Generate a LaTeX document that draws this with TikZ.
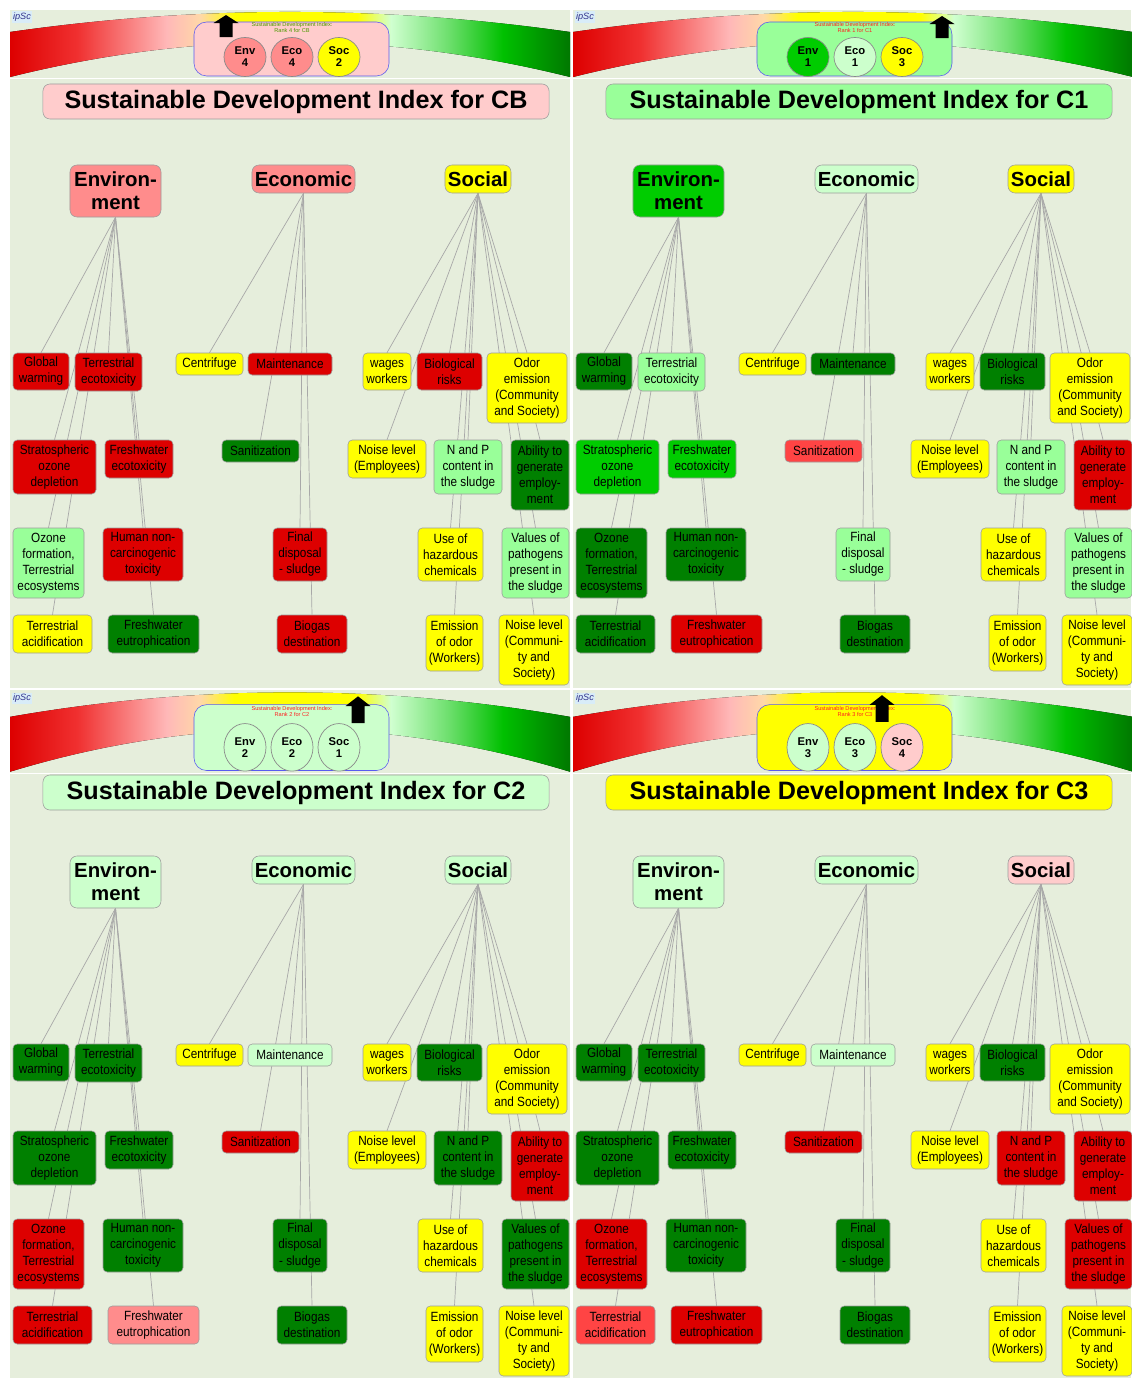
\documentclass[tikz,border=0pt]{standalone}
\usepackage{fontspec}
\setmainfont{Liberation Sans}
\newfontfamily\leaffont[FakeStretch=0.88]{Liberation Sans}
\usetikzlibrary{backgrounds}

\definecolor{sdRed}{HTML}{DD0000}
\definecolor{sdLRed}{HTML}{FF4444}
\definecolor{sdPink}{HTML}{FF8C8C}
\definecolor{sdRose}{HTML}{FFCCCC}
\definecolor{sdYel}{HTML}{FFFF00}
\definecolor{sdLGrn}{HTML}{99FF99}
\definecolor{sdMint}{HTML}{CCFFCC}
\definecolor{sdGrn}{HTML}{00CC00}
\definecolor{sdDGrn}{HTML}{008000}
\definecolor{sdBg}{HTML}{E6EEDC}
\definecolor{sdLine}{HTML}{A8A8A8}
\definecolor{sdEdge}{HTML}{9C9C9C}
\definecolor{sdDot}{HTML}{8A8A8A}
\definecolor{sdBlue}{HTML}{5A5AF0}
\definecolor{sdOlive}{HTML}{4C9A00}
\definecolor{sdAlert}{HTML}{FF2020}
\definecolor{sdLogo}{HTML}{D8ECF8}
\definecolor{sdNavy}{HTML}{30308A}
\definecolor{bandB}{HTML}{F03030}
\definecolor{bandC}{HTML}{FFB8B8}
\definecolor{bandD}{HTML}{FFD8A8}
\definecolor{bandE}{HTML}{D0FFD0}
\definecolor{bandF}{HTML}{70E070}
\definecolor{bandG}{HTML}{00C000}
\definecolor{bandH}{HTML}{007800}
\pgfdeclarehorizontalshading{sdband}{100bp}{color(0bp)=(sdRed); color(25bp)=(sdRed);
  color(31bp)=(bandB); color(39bp)=(bandC); color(42bp)=(bandD); color(45bp)=(sdYel);
  color(56bp)=(sdYel); color(59bp)=(bandE); color(64bp)=(bandF); color(69bp)=(bandG);
  color(75bp)=(bandH); color(100bp)=(bandH)}

\pgfdeclarelayer{panel}
\pgfdeclarelayer{links}
\pgfsetlayers{panel,links,main}

\tikzset{
  leaf/.style={draw=sdEdge, rounded corners=3pt, inner sep=0pt, align=center, text=black,
    font=\leaffont\fontsize{9.5}{11.4}\selectfont},
  pillar/.style={draw=sdEdge, rounded corners=5pt, inner sep=0pt, align=center,
    font=\bfseries\fontsize{14.5}{16.5}\selectfont},
  banner/.style={draw=sdEdge, rounded corners=5pt, inner sep=0pt, minimum width=12.65cm,
    minimum height=0.875cm, font=\bfseries\fontsize{17.9}{20}\selectfont},
  link/.style={draw=sdLine, line width=0.5pt},
  rankdot/.style={draw=sdDot, line width=0.5pt},
  ranktext/.style={font=\bfseries\fontsize{8}{8.6}\selectfont, align=center, inner sep=0pt},
  rankhead/.style={font=\fontsize{4}{4.6}\selectfont, align=center, inner sep=0pt},
  logo/.style={fill=sdLogo, text=sdNavy, font=\itshape\fontsize{6.5}{6.5}\selectfont, inner sep=1pt}
}

% header strip: x, y, yscale, system, rank, box fill, text colour, arrow x, dots
\newcommand\sdihead[9]{%
  \begin{scope}[shift={(#1,#2)}, yscale=#3]
    \fill[shading=sdband] (0,22) .. controls (187,-4.7) and (373,-4.7) .. (560,22)
      -- (560,67) .. controls (373,20.3) and (187,20.3) .. (0,67) -- cycle;
    \draw[white, line width=1.2pt] (0,68.5) -- (560,68.5);
    \node[logo] at (12,7) (#4-logo) {ipSc};
    \draw[sdBlue, fill=#6, rounded corners=9pt] (184,12) rectangle (379,66);
    \node[rankhead, text=#7] at (282,17.5) (#4-rank) {Sustainable Development Index:\\Rank #5 for #4};
    \foreach \dotfill/\dotname/\dotrank [count=\k] in {#9} {
      \draw[rankdot, fill=\dotfill] (188+47*\k,47) ellipse [x radius=0.525cm, y radius=0.4875cm];
      \node[ranktext] at (188+47*\k,47) (#4-dot\k) {\dotname\\\dotrank};
    }
    \pgfmathsetmacro\arrtop{4+20*((#8-280)/280)^2}
    \fill[black] (#8-6.5,\arrtop+22) -- ++(0,-14) -- ++(-6,0) -- (#8,\arrtop)
      -- (#8+12.5,\arrtop+8) -- ++(-6,0) -- ++(0,14) -- cycle;
  \end{scope}}

% tree: system, x, y, banner fill, env/eco/soc fills, leaf fills
\newcommand\sditree[8]{%
  \begin{scope}[shift={(#2,#3)}]
    \node[banner, fill=#4] at (286,91.5) (#1-title) {Sustainable Development Index for #1};
    \node[pillar, fill=#5, minimum width=2.275cm, minimum height=1.3cm] at (105.5,181) (#1-env) {Environ-\\ment};
    \node[pillar, fill=#6, minimum width=2.575cm, minimum height=0.7cm] at (293.5,169) (#1-eco) {Economic};
    \node[pillar, fill=#7, minimum width=1.65cm, minimum height=0.7cm] at (468,169) (#1-soc) {Social};
    \foreach \nm/\xa/\ya/\xb/\yb/\up/\txt [count=\i from 0] in {
        gw/3/343/59/380/env/Global\\warming,
        te/65/343/132/381/env/Terrestrial\\ecotoxicity,
        ce/166/343/233/365/eco/Centrifuge,
        ma/238/343/322/365/eco/Maintenance,
        wa/353/343/401/380/soc/wages\\workers,
        bi/407/343/472/380/soc/Biological\\risks,
        od/477/343/557/413/soc/Odor\\emission\\(Community\\and Society),
        st/3/430/86/484/env/Stratospheric\\ozone\\depletion,
        fe/95/430/163/468/env/Freshwater\\ecotoxicity,
        sa/212/430/289/452/eco/Sanitization,
        ne/338/430/416/468/soc/Noise level\\(Employees),
        np/424/430/492/484/soc/N and P\\content in\\the sludge,
        ab/501/430/559/500/soc/Ability to\\generate\\employ-\\ment,
        oz/3/518/74/588/env/{Ozone\\formation,\\Terrestrial\\ecosystems},
        hu/93/518/173/571/env/Human non-\\carcinogenic\\toxicity,
        fd/263/518/317/571/eco/Final\\disposal\\- sludge,
        uh/408/518/473/571/soc/Use of\\hazardous\\chemicals,
        va/492/518/559/588/soc/Values of\\pathogens\\present in\\the sludge,
        ta/3/605/82/643/env/Terrestrial\\acidification,
        fu/98/605/189/643/env/Freshwater\\eutrophication,
        bg/267/605/337/643/eco/Biogas\\destination,
        eo/416/605/473/661/soc/Emission\\of odor\\(Workers),
        nc/489/605/559/675/soc/Noise level\\(Communi-\\ty and\\Society)} {
      \pgfmathparse{{#8}[\i]}\let\lfill\pgfmathresult
      \node[leaf, fill=\lfill, minimum width={(\xb-\xa)*0.025cm}, minimum height={(\yb-\ya)*0.025cm}]
        at ({(\xa+\xb)/2},{(\ya+\yb)/2}) (#1-\nm) {\txt};
      \begin{pgfonlayer}{links}
        \draw[link] (#1-\up.south) -- (#1-\nm.north);
      \end{pgfonlayer}
    }
  \end{scope}}

\begin{document}
\begin{tikzpicture}[x=0.025cm, y=-0.025cm]
  \useasboundingbox (0,0) rectangle (1131,1378);
  \begin{pgfonlayer}{panel}
    \fill[sdBg] (10,10) rectangle (570,688);
    \fill[sdBg] (573,10) rectangle (1131,688);
    \fill[sdBg] (10,690) rectangle (570,1378);
    \fill[sdBg] (573,690) rectangle (1131,1378);
  \end{pgfonlayer}

  % CB
  \sdihead{10}{10}{1}{CB}{4}{sdRose}{sdOlive}{216}{sdPink/Env/4, sdPink/Eco/4, sdYel/Soc/2}
  \sditree{CB}{10}{10}{sdRose}{sdPink}{sdPink}{sdYel}{"sdRed","sdRed","sdYel","sdRed","sdYel","sdRed","sdYel",
    "sdRed","sdRed","sdDGrn","sdYel","sdLGrn","sdDGrn","sdLGrn","sdRed","sdRed","sdYel","sdLGrn",
    "sdYel","sdDGrn","sdRed","sdYel","sdYel"}

  % C1
  \sdihead{573}{10}{1}{C1}{1}{sdLGrn}{sdAlert}{369}{sdGrn/Env/1, sdMint/Eco/1, sdYel/Soc/3}
  \sditree{C1}{573}{10}{sdLGrn}{sdGrn}{sdMint}{sdYel}{"sdDGrn","sdLGrn","sdYel","sdDGrn","sdYel","sdDGrn","sdYel",
    "sdGrn","sdGrn","sdLRed","sdYel","sdLGrn","sdRed","sdDGrn","sdDGrn","sdLGrn","sdYel","sdLGrn",
    "sdDGrn","sdRed","sdDGrn","sdYel","sdYel"}

  % C2
  \sdihead{10}{690}{1.22}{C2}{2}{sdMint}{sdAlert}{348}{sdMint/Env/2, sdMint/Eco/2, sdMint/Soc/1}
  \sditree{C2}{10}{701}{sdMint}{sdMint}{sdMint}{sdMint}{"sdDGrn","sdDGrn","sdYel","sdMint","sdYel","sdDGrn","sdYel",
    "sdDGrn","sdDGrn","sdRed","sdYel","sdDGrn","sdRed","sdRed","sdDGrn","sdDGrn","sdYel","sdDGrn",
    "sdRed","sdPink","sdDGrn","sdYel","sdYel"}

  % C3
  \sdihead{573}{690}{1.22}{C3}{3}{sdYel}{sdAlert}{309}{sdMint/Env/3, sdMint/Eco/3, sdRose/Soc/4}
  \sditree{C3}{573}{701}{sdYel}{sdMint}{sdMint}{sdRose}{"sdDGrn","sdDGrn","sdYel","sdMint","sdYel","sdDGrn","sdYel",
    "sdDGrn","sdDGrn","sdRed","sdYel","sdRed","sdRed","sdRed","sdDGrn","sdDGrn","sdYel","sdRed",
    "sdLRed","sdRed","sdDGrn","sdYel","sdYel"}
\end{tikzpicture}
\end{document}
